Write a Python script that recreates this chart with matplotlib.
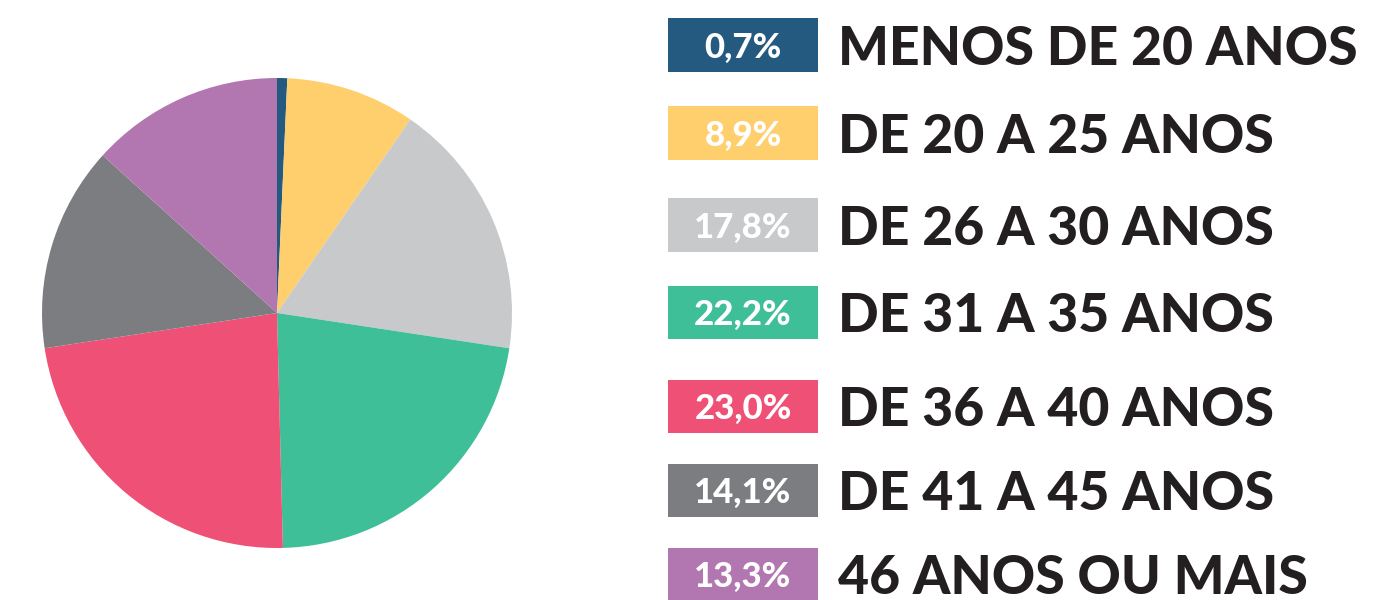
import matplotlib
matplotlib.use("Agg")
import matplotlib.pyplot as plt
from matplotlib.patches import Rectangle

categories = ["MENOS DE 20 ANOS", "DE 20 A 25 ANOS", "DE 26 A 30 ANOS", "DE 31 A 35 ANOS",
              "DE 36 A 40 ANOS", "DE 41 A 45 ANOS", "46 ANOS OU MAIS"]
values = [0.7, 8.9, 17.8, 22.2, 23.0, 14.1, 13.3]
pct_labels = ["0,7%", "8,9%", "17,8%", "22,2%", "23,0%", "14,1%", "13,3%"]
colors = ["#245a80", "#fecf6c", "#c8c9cb", "#3ebf98", "#ef5075", "#7c7d80", "#b276b0"]

W, H = 1378, 600
fig = plt.figure(figsize=(W / 100, H / 100), dpi=100)
fig.patch.set_facecolor("white")

cx, cy, r = 277, 313, 235
ax = fig.add_axes([(cx - r) / W, (H - cy - r) / H, 2 * r / W, 2 * r / H])
ax.pie(values, colors=colors, startangle=90, counterclock=False,
       wedgeprops=dict(linewidth=0))
ax.set_xlim(-1, 1)
ax.set_ylim(-1, 1)
ax.set_aspect("equal")
ax.axis("off")

box_centers = [45, 133, 225, 312, 406, 490, 574]
box_x0, box_x1, box_h = 668, 818, 53
for yc, lab, pct, col in zip(box_centers, categories, pct_labels, colors):
    fig.patches.append(Rectangle((box_x0 / W, (H - yc - box_h / 2) / H),
                                 (box_x1 - box_x0) / W, box_h / H,
                                 transform=fig.transFigure, facecolor=col,
                                 edgecolor="none"))
    fig.text((box_x0 + box_x1) / 2 / W, (H - yc) / H, pct, color="white",
             fontsize=25, fontweight="black", family="Lato",
             ha="center", va="center_baseline")
    fig.text(838 / W, (H - yc) / H, lab, color="#231f20",
             fontsize=38.5, fontweight="black", family="Lato",
             ha="left", va="center_baseline")

fig.savefig("out.png", dpi=100)
